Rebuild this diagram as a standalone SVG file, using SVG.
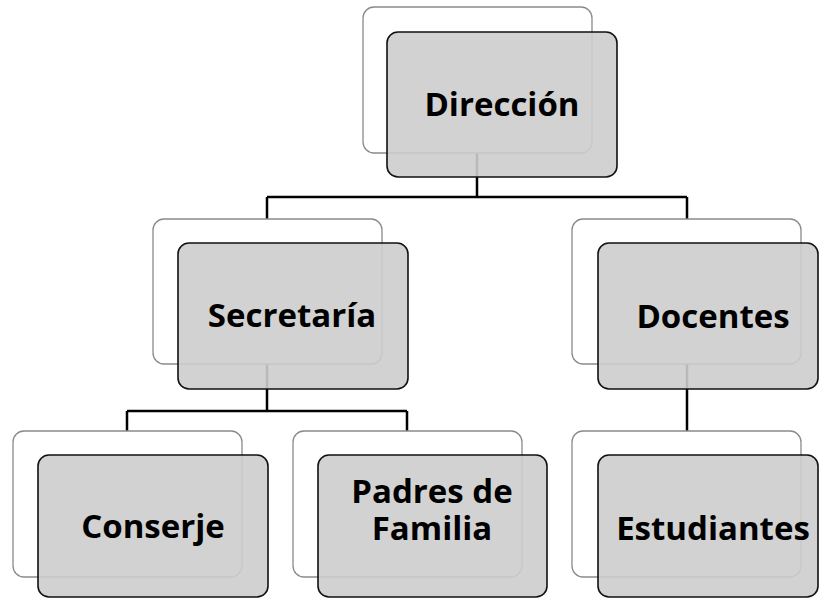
<svg xmlns="http://www.w3.org/2000/svg" width="819" height="598" viewBox="0 0 819 598">
<style>
.conn{stroke:#000;stroke-width:2.5;fill:none}
.back{fill:#fff;stroke:#8a8a8a;stroke-width:1.3}
.front{fill:#cdcdcd;fill-opacity:0.9;stroke:#111;stroke-width:1.6}
.lbl{font-family:"Open Sans",Lato,"Liberation Sans",sans-serif;font-weight:bold;font-size:33px;fill:#000;text-anchor:middle}
</style>
<rect width="819" height="598" fill="#fff"/>
<g id="connectors">
<path class="conn" d="M477 153V197M267 197H687M267 197V219M687 197V219"/>
<path class="conn" d="M267 364V411M127 411H407M127 411V431M407 411V431"/>
<path class="conn" d="M687 364V431"/>
</g>
<g id="direccion">
<rect class="back" x="363" y="7" width="229" height="146" rx="11"/>
<rect class="front" x="387" y="32" width="230" height="145" rx="11"/>
<text class="lbl" x="502" y="116">Dirección</text>
</g>
<g id="secretaria">
<rect class="back" x="153" y="219" width="229" height="145" rx="11"/>
<rect class="front" x="178" y="243" width="230" height="146" rx="11"/>
<text class="lbl" x="292" y="327">Secretaría</text>
</g>
<g id="docentes">
<rect class="back" x="572" y="219" width="229" height="145" rx="11"/>
<rect class="front" x="598" y="243" width="220" height="146" rx="11"/>
<text class="lbl" x="713" y="328">Docentes</text>
</g>
<g id="conserje">
<rect class="back" x="13" y="431" width="229" height="146" rx="11"/>
<rect class="front" x="38" y="455" width="230" height="142" rx="11"/>
<text class="lbl" x="153" y="538">Conserje</text>
</g>
<g id="padres">
<rect class="back" x="293" y="431" width="229" height="146" rx="11"/>
<rect class="front" x="318" y="455" width="229" height="142" rx="11"/>
<text class="lbl" x="432" y="503">Padres de</text>
<text class="lbl" x="432" y="540">Familia</text>
</g>
<g id="estudiantes">
<rect class="back" x="572" y="431" width="229" height="146" rx="11"/>
<rect class="front" x="598" y="455" width="220" height="142" rx="11"/>
<text class="lbl" x="713" y="540">Estudiantes</text>
</g>
</svg>
